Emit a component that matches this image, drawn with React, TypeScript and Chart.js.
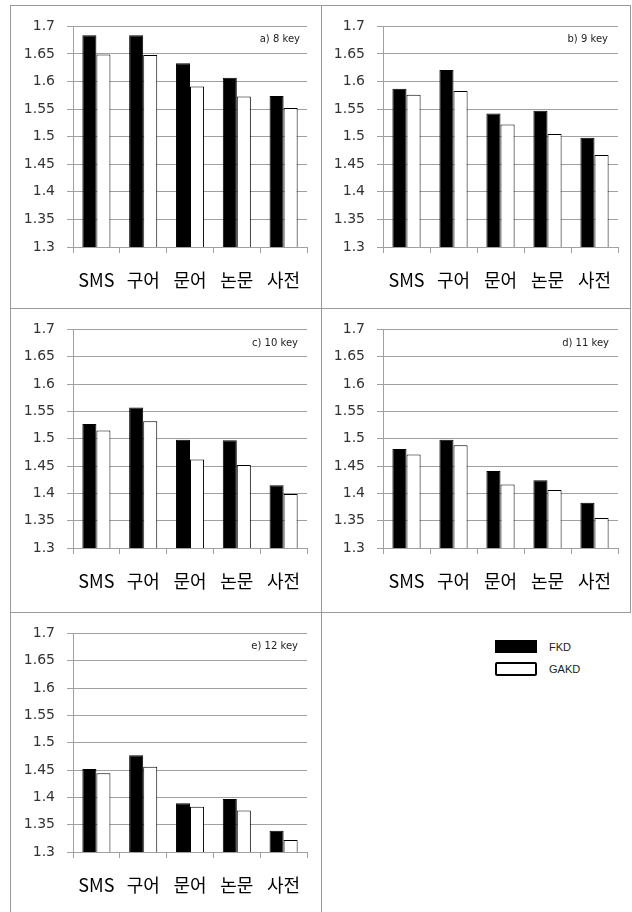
import React, { useEffect, useRef } from "react";
import { Chart, registerables } from "chart.js";
Chart.register(...registerables);

const categories = ["SMS", "구어", "문어", "논문", "사전"];
const seriesNames = ["FKD", "GAKD"];
const yTicks = [1.3, 1.35, 1.4, 1.45, 1.5, 1.55, 1.6, 1.65, 1.7];

const fkd8 = [1.684, 1.684, 1.633, 1.607, 1.574];
const gakd8 = [1.649, 1.648, 1.591, 1.573, 1.552];
const fkd9 = [1.587, 1.621, 1.542, 1.547, 1.498];
const gakd9 = [1.576, 1.583, 1.522, 1.505, 1.467];
const fkd10 = [1.527, 1.557, 1.498, 1.497, 1.415];
const gakd10 = [1.515, 1.532, 1.462, 1.452, 1.399];
const fkd11 = [1.481, 1.498, 1.441, 1.424, 1.383];
const gakd11 = [1.471, 1.488, 1.416, 1.406, 1.355];
const fkd12 = [1.452, 1.477, 1.389, 1.397, 1.339];
const gakd12 = [1.444, 1.456, 1.383, 1.376, 1.322];

const panelTitles = ["a) 8 key", "b) 9 key", "c) 10 key", "d) 11 key", "e) 12 key"];

const cornerLabel = {
  id: "cornerLabel",
  afterDraw(chart: any, _args: any, opts: any) {
    const { ctx, chartArea } = chart;
    ctx.save();
    ctx.font = "10px 'DejaVu Sans'";
    ctx.fillStyle = "#222";
    ctx.textAlign = "right";
    ctx.textBaseline = "middle";
    ctx.fillText(opts.text, chartArea.right - opts.dx, chartArea.top + opts.dy);
    ctx.restore();
  },
};

type PanelProps = {
  fkd: number[];
  gakd: number[];
  title: string;
  left: number;
  top: number;
  width: number;
  height: number;
  yWidth: number;
  padRight: number;
  padTop: number;
  xHeight: number;
  dx: number;
  dy: number;
};

function Panel(p: PanelProps) {
  const ref = useRef<HTMLCanvasElement | null>(null);
  useEffect(() => {
    if (!ref.current) return;
    const chart = new Chart(ref.current, {
      type: "bar",
      data: {
        labels: categories,
        datasets: [
          {
            label: seriesNames[0],
            data: p.fkd,
            backgroundColor: "#000",
            borderColor: "#000",
            borderWidth: 1,
          },
          {
            label: seriesNames[1],
            data: p.gakd,
            backgroundColor: "#fff",
            borderColor: "#000",
            borderWidth: 1,
          },
        ],
      },
      options: {
        responsive: false,
        animation: false,
        devicePixelRatio: 1,
        layout: { padding: { left: 0, right: p.padRight, top: p.padTop, bottom: 0 } },
        datasets: { bar: { categoryPercentage: 0.6, barPercentage: 1.0 } },
        plugins: {
          legend: { display: false },
          tooltip: { enabled: false },
          cornerLabel: { text: p.title, dx: p.dx, dy: p.dy },
        } as any,
        scales: {
          x: {
            afterFit: (s: any) => {
              s.height = p.xHeight;
            },
            grid: {
              drawOnChartArea: false,
              drawTicks: true,
              tickLength: 6,
              offset: true,
              color: "#a0a0a0",
            },
            border: { display: true, color: "#a0a0a0" },
            ticks: {
              padding: 16,
              color: "#000",
              font: { family: "'Noto Sans CJK KR'", size: 18 },
              maxRotation: 0,
            },
          },
          y: {
            min: 1.3,
            max: 1.7,
            afterFit: (s: any) => {
              s.width = p.yWidth;
            },
            afterBuildTicks: (s: any) => {
              s.ticks = yTicks.map((v) => ({ value: v }));
            },
            grid: { color: "#a0a0a0", drawTicks: true, tickLength: 6 },
            border: { display: true, color: "#a0a0a0" },
            ticks: {
              padding: 12,
              color: "#333",
              font: { family: "'DejaVu Sans'", size: 14 },
              callback: (v: any) => String(parseFloat(Number(v).toFixed(2))),
            },
          },
        },
      },
      plugins: [cornerLabel as any],
    });
    return () => chart.destroy();
  }, []);
  return (
    <canvas
      ref={ref}
      width={p.width}
      height={p.height}
      style={{ position: "absolute", left: p.left, top: p.top, width: p.width, height: p.height }}
    />
  );
}

const box = (left: number, top: number, width: number, height: number) => (
  <div
    style={{
      position: "absolute",
      left,
      top,
      width,
      height,
      boxSizing: "border-box",
      border: "1px solid #9a9a9a",
    }}
  />
);

export default function App() {
  return (
    <div
      style={{
        position: "absolute",
        left: 0,
        top: 0,
        width: 632,
        height: 912,
        background: "#fff",
        overflow: "hidden",
      }}
    >
      {box(10, 5, 312, 304)}
      {box(321, 5, 310, 304)}
      {box(10, 308, 312, 305)}
      {box(321, 308, 310, 305)}
      {box(10, 612, 312, 310)}
      <Panel fkd={fkd8} gakd={gakd8} title={panelTitles[0]} left={11} top={6} width={309} height={301}
        yWidth={62} padRight={13} padTop={17} xHeight={60} dx={7} dy={13} />
      <Panel fkd={fkd9} gakd={gakd9} title={panelTitles[1]} left={322} top={6} width={307} height={301}
        yWidth={61} padRight={11} padTop={17} xHeight={60} dx={10} dy={13} />
      <Panel fkd={fkd10} gakd={gakd10} title={panelTitles[2]} left={11} top={309} width={309} height={302}
        yWidth={62} padRight={13} padTop={16} xHeight={63} dx={9} dy={14} />
      <Panel fkd={fkd11} gakd={gakd11} title={panelTitles[3]} left={322} top={309} width={307} height={302}
        yWidth={61} padRight={11} padTop={16} xHeight={63} dx={9} dy={14} />
      <Panel fkd={fkd12} gakd={gakd12} title={panelTitles[4]} left={11} top={613} width={309} height={299}
        yWidth={62} padRight={13} padTop={15} xHeight={60} dx={9} dy={13} />
      <div style={{ position: "absolute", left: 495, top: 640, width: 42, height: 13, background: "#000" }} />
      <div
        style={{
          position: "absolute",
          left: 495,
          top: 662,
          width: 42,
          height: 14,
          boxSizing: "border-box",
          border: "2px solid #000",
          borderRadius: 2,
          background: "#fff",
        }}
      />
      <div
        style={{
          position: "absolute",
          left: 549,
          top: 640,
          fontFamily: "'Liberation Sans', Arial, sans-serif",
          fontSize: 11,
          lineHeight: "14px",
          color: "#222",
        }}
      >
        {seriesNames[0]}
      </div>
      <div
        style={{
          position: "absolute",
          left: 549,
          top: 662,
          fontFamily: "'Liberation Sans', Arial, sans-serif",
          fontSize: 11,
          lineHeight: "14px",
          color: "#222",
        }}
      >
        {seriesNames[1]}
      </div>
    </div>
  );
}
